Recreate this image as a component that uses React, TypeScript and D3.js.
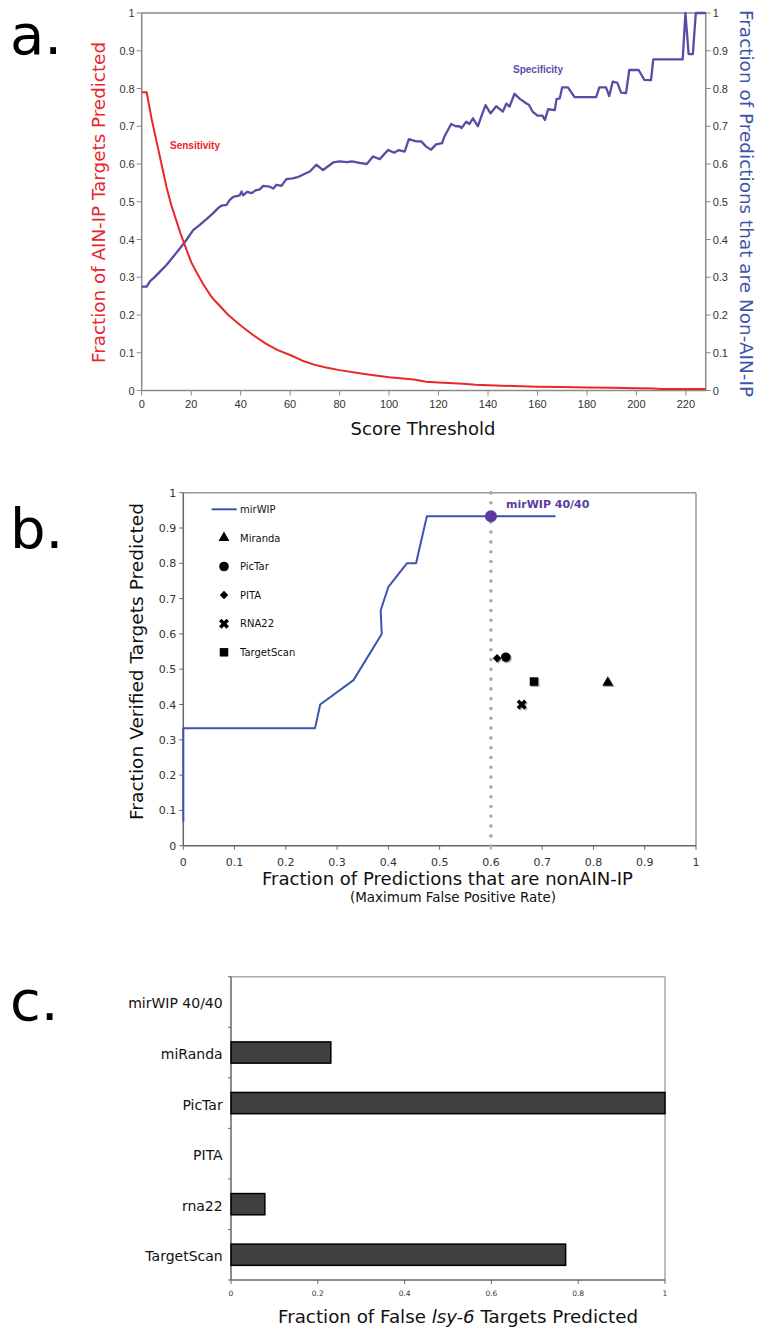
import * as d3 from "d3";
import React from "react";

const W = 757;
const H = 1330;

// ---- panel a: score threshold sweep ----
const sensitivity: [number, number][] = [
  [0, 0.79], [2, 0.79], [4, 0.72], [6, 0.66], [8, 0.6], [10, 0.54], [12, 0.49],
  [14, 0.45], [16, 0.41], [18, 0.375], [20, 0.34], [22, 0.315], [25, 0.28],
  [28, 0.25], [30, 0.235], [35, 0.2], [40, 0.172], [45, 0.147], [50, 0.125],
  [55, 0.107], [60, 0.094], [65, 0.079], [70, 0.068], [75, 0.06], [80, 0.054],
  [90, 0.044], [100, 0.035], [110, 0.029], [115, 0.023], [120, 0.021],
  [130, 0.018], [135, 0.015], [140, 0.014], [150, 0.012], [160, 0.01],
  [170, 0.009], [180, 0.008], [190, 0.007], [200, 0.006], [207, 0.005],
  [210, 0.004], [228, 0.004],
];

const specificity: [number, number][] = [
  [0, 0.275], [2, 0.275], [3.4, 0.29], [4.7, 0.297], [7.4, 0.315], [10.1, 0.333],
  [12.8, 0.355], [15.5, 0.377], [18.2, 0.4], [20.8, 0.425], [23.5, 0.439],
  [26.2, 0.454], [28.9, 0.47], [30.9, 0.483], [32.3, 0.49], [34.3, 0.492],
  [35.6, 0.505], [37, 0.513], [39.6, 0.517], [40.4, 0.527], [41, 0.517],
  [42.6, 0.526], [44.5, 0.523], [46, 0.53], [47.8, 0.533], [49.1, 0.542],
  [51.8, 0.54], [53.2, 0.535], [54.5, 0.545], [56.5, 0.542], [58.5, 0.56],
  [61, 0.562], [63, 0.565], [66.6, 0.576], [68, 0.58], [70.6, 0.598],
  [73.3, 0.584], [77.4, 0.604], [80, 0.607], [83, 0.605], [85, 0.607],
  [88, 0.603], [91, 0.6], [93.5, 0.62], [96.2, 0.613], [99.6, 0.637],
  [102, 0.63], [104, 0.637], [106.3, 0.633], [108, 0.666], [111, 0.66],
  [113, 0.66], [115, 0.646], [117, 0.638], [119, 0.652], [121.4, 0.655],
  [122.4, 0.673], [125.1, 0.706], [127, 0.7], [128.4, 0.7], [129.3, 0.695],
  [130.4, 0.705], [131.2, 0.712], [132.5, 0.706], [133.9, 0.721], [135.9, 0.7],
  [137.2, 0.724], [139, 0.756], [141, 0.734], [143.3, 0.753], [146, 0.739],
  [147.4, 0.76], [148.7, 0.752], [150.7, 0.786], [153, 0.772], [155.4, 0.761],
  [156.5, 0.757], [158, 0.739], [160, 0.728], [162, 0.728], [163, 0.717],
  [164.3, 0.745], [167, 0.743], [167.7, 0.772], [169, 0.774], [170, 0.803],
  [172.3, 0.803], [175, 0.777], [183.7, 0.777], [185, 0.803], [187.7, 0.803],
  [189, 0.78], [190.4, 0.818], [192.3, 0.815], [193.8, 0.789], [195.8, 0.788],
  [197.1, 0.849], [200.9, 0.849], [203.2, 0.823], [205.9, 0.822], [206.8, 0.877],
  [218.7, 0.877], [219.8, 1.0], [221.1, 0.891], [222.8, 0.891], [224, 1.0],
  [228, 1.0],
];

const scoreTicks = [0, 20, 40, 60, 80, 100, 120, 140, 160, 180, 200, 220];
const fracTicks = [0, 0.1, 0.2, 0.3, 0.4, 0.5, 0.6, 0.7, 0.8, 0.9, 1];

// ---- panel b: verified targets vs false positive rate ----
const mirwipCurve: [number, number][] = [
  [0, 0.068], [0, 0.333], [0.257, 0.333], [0.267, 0.4], [0.332, 0.469],
  [0.387, 0.6], [0.385, 0.667], [0.4, 0.733], [0.436, 0.8], [0.454, 0.8],
  [0.475, 0.933], [0.726, 0.933],
];
const methods = ["Miranda", "PicTar", "PITA", "RNA22", "TargetScan"];
const methodFpr = [0.828, 0.629, 0.612, 0.66, 0.684];
const methodSens = [0.462, 0.534, 0.531, 0.4, 0.465];
const cutoffFpr = 0.6;
const cutoffSens = 0.933;

// ---- panel c: false lsy-6 targets ----
const programs = ["mirWIP 40/40", "miRanda", "PicTar", "PITA", "rna22", "TargetScan"];
const falseFraction = [0, 0.23, 1, 0, 0.078, 0.771];
const barTicks = [0, 0.2, 0.4, 0.6, 0.8, 1];

// marker look per method (PITA diamond = tilted square, RNA22 = tilted cross)
const symbolOf: Record<string, any> = {
  Miranda: d3.symbolTriangle,
  PicTar: d3.symbolCircle,
  PITA: d3.symbolSquare,
  RNA22: d3.symbolCross,
  TargetScan: d3.symbolSquare,
};
const sizeOf: Record<string, number> = {
  Miranda: 52, PicTar: 72, PITA: 36, RNA22: 62, TargetScan: 72,
};
const tilted = new Set(["PITA", "RNA22"]);

const sans = "'DejaVu Sans', Verdana, sans-serif";
const arial = "'Liberation Sans', Arial, sans-serif";
const fmt = (d: number) => String(+d.toFixed(1));

function PanelA() {
  const x = d3.scaleLinear().domain([0, 228]).range([141.7, 705.7]);
  const y = d3.scaleLinear().domain([0, 1]).range([390.5, 13]);
  const line = d3.line<[number, number]>().x((d) => x(d[0])).y((d) => y(d[1]));
  const [x0, x1] = x.range();
  const [y0, y1] = y.range();
  return (
    <g>
      <text x={10} y={54} fontFamily={sans} fontSize={56}>a.</text>
      <rect x={x0} y={y1} width={x1 - x0} height={y0 - y1} fill="none" stroke="#8a8a8a" strokeWidth={1.5} />
      {fracTicks.map((t) => (
        <g key={t} fontFamily={arial} fontSize={11} fill="#333">
          <line x1={x0 - 5} x2={x0} y1={y(t)} y2={y(t)} stroke="#8a8a8a" />
          <line x1={x1} x2={x1 + 5} y1={y(t)} y2={y(t)} stroke="#8a8a8a" />
          <text x={x0 - 7} y={y(t) + 4} textAnchor="end">{fmt(t)}</text>
          <text x={x1 + 7} y={y(t) + 4}>{fmt(t)}</text>
        </g>
      ))}
      {scoreTicks.map((t) => (
        <g key={t}>
          <line x1={x(t)} x2={x(t)} y1={y0} y2={y0 + 5} stroke="#8a8a8a" />
          <text x={x(t)} y={y0 + 17.5} textAnchor="middle" fontFamily={arial} fontSize={11} fill="#333">{t}</text>
        </g>
      ))}
      <path d={line(specificity) ?? ""} fill="none" stroke="#5a4ca6" strokeWidth={2.3} strokeLinejoin="round" />
      <path d={line(sensitivity) ?? ""} fill="none" stroke="#e8262c" strokeWidth={2} strokeLinejoin="round" />
      <text x={195} y={148.5} textAnchor="middle" fontFamily={arial} fontWeight="bold" fontSize={10} fill="#e8262c">Sensitivity</text>
      <text x={538} y={72.5} textAnchor="middle" fontFamily={arial} fontWeight="bold" fontSize={10} fill="#5a4ca6">Specificity</text>
      <text transform="translate(105,202.5) rotate(-90)" textAnchor="middle" fontFamily={sans} fontSize={18} fill="#e8262c" textLength={321} lengthAdjust="spacingAndGlyphs">
        Fraction of AIN-IP Targets Predicted
      </text>
      <text transform="translate(740,203.5) rotate(90)" textAnchor="middle" fontFamily={sans} fontSize={18} fill="#3f56a8" textLength={387} lengthAdjust="spacingAndGlyphs">
        Fraction of Predictions that are Non-AIN-IP
      </text>
      <text x={423} y={435} textAnchor="middle" fontFamily={sans} fontSize={18} fill="#111">Score Threshold</text>
    </g>
  );
}

function PanelB() {
  const x = d3.scaleLinear().domain([0, 1]).range([183.3, 696]);
  const y = d3.scaleLinear().domain([0, 1]).range([845.7, 492.7]);
  const line = d3.line<[number, number]>().x((d) => x(d[0])).y((d) => y(d[1]));
  const [x0, x1] = x.range();
  const [y0, y1] = y.range();
  const legendY = (i: number) => 509.3 + i * 28.6;
  return (
    <g>
      <text x={10} y={548} fontFamily={sans} fontSize={56}>b.</text>
      <line x1={x0} x2={x1} y1={y1} y2={y1} stroke="#999" strokeWidth={1.5} />
      <line x1={x1} x2={x1} y1={y1} y2={y0} stroke="#999" strokeWidth={1.5} />
      <line x1={x0} x2={x0} y1={y1} y2={y0} stroke="#666" strokeWidth={1.5} />
      <line x1={x0} x2={x1} y1={y0} y2={y0} stroke="#666" strokeWidth={1.5} />
      {fracTicks.map((t) => (
        <g key={t} fontFamily={sans} fontSize={11} fill="#333">
          <line x1={x0 - 4} x2={x0} y1={y(t)} y2={y(t)} stroke="#666" />
          <text x={x0 - 7} y={y(t) + 4} textAnchor="end">{fmt(t)}</text>
          <line x1={x(t)} x2={x(t)} y1={y0} y2={y0 + 4} stroke="#666" />
          <text x={x(t)} y={y0 + 20} textAnchor="middle">{fmt(t)}</text>
        </g>
      ))}
      <line x1={x(cutoffFpr)} x2={x(cutoffFpr)} y1={y(0)} y2={y(1)} stroke="#aaa" strokeWidth={3.6} strokeLinecap="round" strokeDasharray="0 9.8" />
      <path d={line(mirwipCurve) ?? ""} fill="none" stroke="#3c53b0" strokeWidth={2} strokeLinejoin="round" />
      <circle cx={x(cutoffFpr)} cy={y(cutoffSens)} r={6} fill="#5b3c9e" />
      <text x={506} y={507.5} fontFamily={sans} fontWeight="bold" fontSize={11} fill="#5b3c9e">mirWIP 40/40</text>
      {methods.map((m, i) => {
        const sym = d3.symbol(symbolOf[m], sizeOf[m])() ?? "";
        const rot = tilted.has(m) ? " rotate(45)" : "";
        return (
          <g key={m}>
            <path d={sym} transform={`translate(${x(methodFpr[i]) + 1.2},${y(methodSens[i]) + 1.2})${rot}`} fill="#aaa" />
            <path d={sym} transform={`translate(${x(methodFpr[i])},${y(methodSens[i])})${rot}`} fill="#000" />
            <path d={sym} transform={`translate(224,${legendY(i + 1)})${rot}`} fill="#000" />
            <text x={240} y={legendY(i + 1) + 3.6} fontFamily={sans} fontSize={10} fill="#111">{m}</text>
          </g>
        );
      })}
      <line x1={211.7} x2={236.7} y1={legendY(0)} y2={legendY(0)} stroke="#3c53b0" strokeWidth={2} />
      <text x={240} y={legendY(0) + 3.6} fontFamily={sans} fontSize={10} fill="#111">mirWIP</text>
      <text transform="translate(143,661.5) rotate(-90)" textAnchor="middle" fontFamily={sans} fontSize={18} fill="#111" textLength={317} lengthAdjust="spacingAndGlyphs">
        Fraction Verified Targets Predicted
      </text>
      <text x={447.5} y={885} textAnchor="middle" fontFamily={sans} fontSize={18} fill="#111" textLength={371} lengthAdjust="spacingAndGlyphs">
        Fraction of Predictions that are nonAIN-IP
      </text>
      <text x={453} y={902} textAnchor="middle" fontFamily={sans} fontSize={13.5} fill="#111" textLength={206} lengthAdjust="spacingAndGlyphs">
        (Maximum False Positive Rate)
      </text>
    </g>
  );
}

function PanelC() {
  const x = d3.scaleLinear().domain([0, 1]).range([231, 665]);
  const y = d3.scaleBand<string>().domain(programs).range([976.7, 1280]).paddingInner(0.58).paddingOuter(0.29);
  const [x0, x1] = x.range();
  const [y1, y0] = y.range();
  const step = y.step();
  return (
    <g>
      <text x={10} y={1020} fontFamily={sans} fontSize={56}>c.</text>
      <line x1={x0} x2={x1} y1={y1} y2={y1} stroke="#aaa" strokeWidth={1.5} />
      <line x1={x1} x2={x1} y1={y1} y2={y0} stroke="#aaa" strokeWidth={1.5} />
      <line x1={x0} x2={x0} y1={y1} y2={y0} stroke="#666" strokeWidth={1.5} />
      <line x1={x0} x2={x1} y1={y0} y2={y0} stroke="#666" strokeWidth={1.5} />
      {programs.map((p, i) => (
        <g key={p}>
          <line x1={x0 - 3} x2={x0} y1={y1 + i * step} y2={y1 + i * step} stroke="#666" />
          {falseFraction[i] > 0 && (
            <rect x={x(0)} y={y(p)} width={x(falseFraction[i]) - x(0)} height={y.bandwidth()} fill="#404040" stroke="#000" strokeWidth={1.5} />
          )}
          <text x={222.7} y={(y(p) ?? 0) + y.bandwidth() / 2 + 6.5} textAnchor="end" fontFamily={sans} fontSize={14} fill="#111">{p}</text>
        </g>
      ))}
      <line x1={x0 - 3} x2={x0} y1={y0} y2={y0} stroke="#666" />
      {barTicks.map((t) => (
        <g key={t}>
          <line x1={x(t)} x2={x(t)} y1={y0} y2={y0 + 4} stroke="#666" />
          <text x={x(t)} y={y0 + 15.5} textAnchor="middle" fontFamily={sans} fontSize={7.5} fill="#333">{fmt(t)}</text>
        </g>
      ))}
      <text x={458} y={1323} textAnchor="middle" fontFamily={sans} fontSize={18} fill="#111" textLength={360} lengthAdjust="spacingAndGlyphs">
        Fraction of False <tspan fontStyle="italic">lsy-6</tspan> Targets Predicted
      </text>
    </g>
  );
}

export default function App() {
  return (
    <svg width={W} height={H} style={{ position: "absolute", left: 0, top: 0, display: "block", background: "#fff" }}>
      <PanelA />
      <PanelB />
      <PanelC />
    </svg>
  );
}
